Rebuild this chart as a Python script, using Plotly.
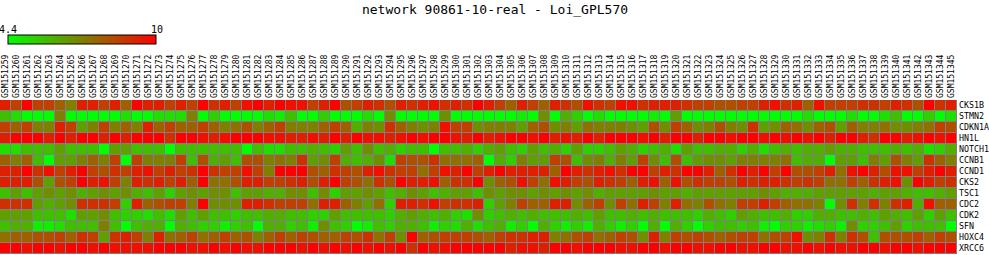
import plotly.graph_objects as go

title_text = "network 90861-10-real - Loi_GPL570"
samples = ["GSM%d" % n for n in range(151259, 151346)]
genes = ["CKS1B", "STMN2", "CDKN1A", "HN1L", "NOTCH1", "CCNB1", "CCND1",
         "CKS2", "TSC1", "CDC2", "CDK2", "SFN", "HOXC4", "XRCC6"]
zmin_val = 4.4
zmax_val = 10

CKS1B = [9.3,8.6,10,8.6,8.6,7.9,7.2,9.3,9.3,8.6,9.3,7.9,10,9.3,9.3,
         8.6,9.3,8.6,10,8.95,9.3,8.6,9.65,10,9.3,10,9.65,9.65,8.6,9.3,
         10,8.25,8.6,9.3,8.95,8.25,9.3,8.95,9.3,9.65,8.95,9.3,8.95,10,9.3,
         8.6,7.9,9.3,8.6,7.9,9.3,8.95,8.25,9.65,8.95,8.6,9.65,9.65,8.95,9.3,
         9.3,9.3,8.95,8.6,8.6,8.25,8.25,8.6,8.6,9.3,9.65,8.95,9.3,7.9,9.65,
         8.6,8.6,8.6,8.95,8.95,8.6,9.3,8.95,8.25,10,8.95,9.3]
STMN2 = [5.8,5.1,4.4,4.4,4.4,7.2,4.4,4.4,4.4,4.4,4.4,5.1,4.4,4.4,5.1,
         5.1,5.1,7.2,4.4,5.45,4.4,4.4,4.4,4.4,5.1,4.75,5.8,4.4,4.4,5.45,
         4.4,4.4,4.4,5.1,4.4,6.85,4.4,4.4,4.4,4.4,6.85,4.4,4.4,4.4,4.4,
         4.4,4.4,4.75,4.4,6.85,4.4,6.15,5.45,4.4,5.1,4.4,4.4,4.4,4.4,4.75,
         4.4,6.5,4.4,4.4,4.4,4.4,4.4,4.4,4.4,4.4,4.4,4.4,4.4,5.1,4.4,
         4.4,4.4,5.1,4.4,4.4,5.1,5.8,4.4,4.4,5.45,4.4,5.1]
CDKN1A = [8.6,7.9,8.6,7.2,7.2,9.3,8.6,6.5,7.2,8.6,7.2,7.9,7.2,9.3,7.9,
          8.6,7.9,7.9,8.6,7.9,7.2,7.55,8.25,7.2,7.9,8.6,7.2,7.2,7.2,7.9,
          8.6,7.9,6.15,7.2,6.85,8.95,7.9,7.2,6.85,7.2,9.65,8.6,8.6,6.85,7.2,
          7.2,7.2,6.5,7.9,8.25,6.85,7.2,6.5,7.55,7.2,7.2,7.2,6.85,6.5,8.25,
          6.85,8.6,7.9,6.85,7.2,8.25,7.2,6.85,8.95,6.5,6.85,7.9,7.55,6.85,7.9,
          8.25,6.5,7.9,7.2,7.2,7.55,6.85,6.85,7.2,7.55,8.6,8.25]
HN1L = [9.3,10,10,10,9.3,10,9.3,10,10,9.3,10,9.3,10,10,10,
        8.95,10,10,9.65,9.3,9.65,10,10,10,9.65,9.65,9.3,9.3,9.65,9.3,
        10,9.3,10,9.65,9.65,9.3,9.65,10,9.65,10,10,9.65,9.3,10,9.3,
        9.65,10,10,9.65,10,9.3,9.65,9.3,10,9.3,10,10,10,9.65,10,
        9.3,10,10,9.3,10,10,9.65,10,10,9.65,10,9.65,10,9.65,10,
        9.3,10,10,9.3,8.95,10,10,9.3,9.65,10,9.65,10]
NOTCH1 = [5.1,5.1,5.8,5.8,5.8,6.5,5.8,5.8,5.8,4.4,6.5,6.5,5.8,5.8,5.8,
          4.4,5.8,5.8,5.8,5.8,5.8,5.8,4.4,5.8,5.1,5.1,5.8,5.8,6.15,5.8,
          5.45,6.5,5.8,6.85,5.8,6.15,5.45,5.8,5.8,4.4,5.8,5.8,6.15,5.45,6.15,
          6.5,5.8,5.45,6.5,5.8,6.15,5.45,6.5,5.45,5.45,5.8,6.5,6.15,5.45,5.8,
          6.15,5.1,6.5,5.8,5.8,6.15,6.15,5.45,6.15,5.1,5.8,6.15,5.8,6.15,6.15,
          6.5,6.15,6.15,5.8,5.8,5.8,6.15,5.8,6.15,5.1,5.45,6.15]
CCNB1 = [7.9,7.2,7.9,5.8,4.4,6.5,6.5,7.2,7.9,7.2,8.6,4.4,8.6,7.2,7.2,
         7.2,8.6,5.8,8.25,6.15,6.5,5.8,8.25,8.25,7.2,7.55,7.2,8.95,6.5,6.85,
         8.6,6.15,5.8,6.15,6.85,5.1,8.6,8.25,8.25,8.95,7.55,7.55,7.55,7.9,4.4,
         6.15,5.45,7.2,6.5,6.5,8.6,8.25,5.8,6.85,7.2,6.15,7.2,6.5,8.6,6.85,
         5.8,8.25,5.8,6.5,6.85,6.85,6.5,7.2,7.2,7.2,7.2,7.55,5.8,6.15,6.15,
         4.4,6.5,6.5,5.8,7.2,6.5,8.25,7.2,6.5,8.95,7.9,7.2]
CCND1 = [9.3,9.3,10,8.95,9.65,8.6,9.3,10,8.6,8.25,8.95,8.6,9.3,9.65,8.6,
         9.3,8.6,8.95,10,8.95,8.6,8.6,9.65,8.6,7.2,10,10,10,8.25,7.9,
         8.95,8.6,8.25,9.3,9.65,8.95,8.6,8.6,7.55,8.6,9.65,9.3,10,8.6,9.3,
         10,9.3,9.3,9.3,9.3,7.9,10,9.3,8.95,9.3,9.65,8.95,10,10,8.6,
         9.3,8.95,10,10,9.3,7.9,8.95,10,9.3,10,8.6,10,8.25,8.25,8.6,
         9.3,7.55,9.65,10,9.3,8.25,9.65,9.65,8.6,9.3,10,9.3]
CKS2 = [9.3,9.3,9.3,8.25,6.5,8.25,8.6,10,9.3,9.65,8.6,7.2,9.3,8.95,9.3,
        8.6,9.3,7.9,10,7.55,7.55,8.25,9.3,9.3,8.6,8.6,8.95,9.3,8.25,9.3,
        10,8.6,8.25,7.55,8.95,8.25,10,9.3,9.3,9.65,7.9,8.95,8.95,10,6.85,
        7.9,8.25,9.65,8.6,7.55,9.65,9.3,8.6,8.25,9.3,8.95,8.6,7.9,9.3,9.65,
        7.9,9.65,8.25,8.95,8.6,8.6,8.25,9.3,8.95,9.3,9.3,8.95,8.6,8.95,8.6,
        7.55,7.55,8.6,7.9,8.95,9.3,9.65,6.85,10,9.3,8.6,8.95]
TSC1 = [5.8,6.5,5.8,6.5,6.85,6.5,6.85,6.15,6.5,6.85,6.5,6.85,6.15,5.8,6.5,
        5.45,6.5,6.85,6.5,6.85,6.85,5.8,6.5,6.5,6.15,6.15,6.85,6.85,5.8,6.85,
        5.45,6.5,6.5,6.85,6.5,5.8,6.15,6.85,6.5,5.8,6.15,6.5,6.5,5.8,6.85,
        6.5,6.85,6.85,6.5,6.85,6.5,6.85,6.5,6.85,6.15,6.5,6.5,6.5,6.5,6.85,
        6.5,6.5,6.15,6.5,6.5,6.5,6.5,6.5,6.5,6.85,6.5,6.15,6.15,6.15,6.5,
        6.5,6.5,6.5,6.5,6.15,6.5,6.5,6.15,5.8,5.8,6.15,6.5]
CDC2 = [8.95,8.95,8.95,6.5,6.15,6.5,6.85,8.95,8.95,8.95,8.6,5.45,9.3,7.9,8.25,
        8.6,8.6,7.2,10,6.85,6.85,6.85,9.3,9.3,8.95,8.6,8.6,8.6,7.55,9.3,
        9.3,7.9,7.2,6.5,7.55,5.45,9.3,9.3,8.95,9.65,8.6,8.95,8.95,9.3,5.45,
        6.5,7.2,8.6,7.9,7.9,9.3,9.3,6.85,7.9,8.6,6.85,8.6,7.55,9.3,8.6,
        7.2,9.3,7.55,7.2,8.25,7.55,7.2,8.6,8.6,9.3,8.6,7.9,7.55,7.55,7.2,
        4.4,6.85,8.95,7.2,8.95,7.2,8.95,9.3,6.15,9.65,7.9,7.9]
CDK2 = [6.5,6.5,6.5,5.8,5.8,5.8,5.1,6.5,6.5,6.85,5.8,5.45,5.45,5.1,5.8,
        5.1,6.5,5.8,6.5,5.8,5.8,5.45,5.8,5.8,6.15,6.15,5.8,5.8,5.45,5.45,
        6.5,5.8,5.8,5.8,5.8,5.45,6.15,6.5,6.15,5.8,6.15,5.45,5.1,6.85,5.45,
        5.8,6.15,5.8,6.15,5.8,5.8,5.8,6.15,5.8,6.5,5.8,5.8,6.15,5.8,6.15,
        5.8,5.8,5.8,5.45,6.15,5.8,5.45,6.5,6.15,5.8,5.8,6.15,5.45,5.45,6.15,
        6.15,5.8,5.8,6.15,5.8,6.5,6.15,5.8,6.5,5.45,6.5,5.8]
SFN = [5.8,6.15,6.15,4.75,4.75,5.1,5.8,5.8,5.8,7.2,5.8,4.4,5.8,6.15,6.15,
       4.4,6.15,5.8,5.45,5.45,4.75,5.45,5.8,4.4,6.15,6.15,5.45,5.8,4.75,6.85,
       5.8,5.45,4.4,4.75,5.8,5.45,6.15,6.15,5.8,4.75,5.45,5.1,6.15,5.1,5.8,
       6.15,4.75,5.45,4.4,6.15,5.45,4.75,5.45,4.75,6.15,5.45,4.75,5.45,4.4,6.15,
       4.4,6.15,5.45,4.4,5.45,5.8,5.8,5.45,5.8,4.75,4.4,5.45,5.45,4.75,5.1,
       5.45,4.75,6.85,5.45,5.45,5.8,6.5,5.45,5.8,5.8,5.8,4.4]
HOXC4 = [7.55,7.9,7.9,8.25,8.25,8.6,7.9,8.95,8.6,6.5,8.95,9.3,8.6,7.2,9.3,
         7.55,7.9,8.6,7.55,7.9,8.6,7.9,8.25,7.2,7.9,8.6,7.9,8.6,8.25,7.9,
         7.9,8.6,8.25,8.95,7.55,8.6,6.85,10,7.9,8.25,8.6,8.6,8.6,8.25,7.9,
         8.6,8.95,8.95,9.3,9.3,7.2,7.55,8.25,8.6,7.55,7.9,8.6,8.25,6.85,9.3,
         7.2,8.6,8.25,8.6,8.25,7.9,8.25,8.6,8.6,7.55,8.25,8.6,9.65,6.85,7.2,
         8.95,7.2,8.95,8.25,5.8,8.25,8.25,8.25,8.6,7.9,8.6,8.25]
XRCC6 = [10,10,9.65,10,10,9.65,10,10,9.65,10,9.65,9.65,9.65,9.65,10,
         10,10,9.65,9.65,10,9.65,10,9.65,9.65,10,10,10,9.65,10,9.65,
         10,9.65,10,9.65,10,9.65,10,8.95,10,9.65,9.65,10,10,10,10,
         10,9.3,9.65,9.65,9.3,10,10,9.65,10,10,10,9.65,9.65,10,10,
         9.65,10,10,9.65,9.65,10,10,9.65,9.65,10,10,9.65,9.65,10,9.65,
         10,9.65,9.65,10,10,9.65,10,10,9.65,10,10,10]

z = [CKS1B, STMN2, CDKN1A, HN1L, NOTCH1, CCNB1, CCND1,
     CKS2, TSC1, CDC2, CDK2, SFN, HOXC4, XRCC6]

W, H = 989, 255
mono = "DejaVu Sans Mono"

fig = go.Figure(go.Heatmap(
    z=z, x=samples, y=genes,
    colorscale=[[0, "rgb(0,255,0)"], [1, "rgb(255,0,0)"]],
    zmin=zmin_val, zmax=zmax_val,
    xgap=1, ygap=1,
    hoverinfo="x+y+z",
    colorbar=dict(
        orientation="h",
        x=82 / W, xanchor="center",
        y=1 - 40 / H, yanchor="middle",
        len=148, lenmode="pixels",
        thickness=9, thicknessmode="pixels",
        outlinecolor="black", outlinewidth=1,
        showticklabels=False, ticks="",
        xpad=0, ypad=0,
    ),
))

fig.add_annotation(text=str(zmin_val), x=8 / W, y=1 - 29.5 / H, xref="paper", yref="paper",
                   showarrow=False, xanchor="center", yanchor="middle",
                   font=dict(family=mono, size=10, color="black"))
fig.add_annotation(text=str(zmax_val), x=157 / W, y=1 - 29.5 / H, xref="paper", yref="paper",
                   showarrow=False, xanchor="center", yanchor="middle",
                   font=dict(family=mono, size=10, color="black"))

fig.update_layout(
    width=W, height=H,
    margin=dict(l=0, r=0, t=0, b=0),
    paper_bgcolor="white",
    plot_bgcolor="#808080",
    title=dict(text=title_text, x=495 / W, xanchor="center",
               y=1 - 9 / H, yanchor="middle", yref="container",
               font=dict(family=mono, size=13, color="black")),
    xaxis=dict(side="top", tickangle=-90, domain=[0, 957 / W],
               tickfont=dict(family=mono, size=8, color="black"),
               showgrid=False, zeroline=False, ticks="", automargin=False,
               showline=False, ticklabelstandoff=1),
    yaxis=dict(side="right", autorange="reversed", domain=[1 / H, 155 / H],
               tickfont=dict(family=mono, size=8.3, color="black"),
               showgrid=False, zeroline=False, ticks="", automargin=False,
               showline=False, ticklabelstandoff=1),
)

fig.write_html("out.html")
